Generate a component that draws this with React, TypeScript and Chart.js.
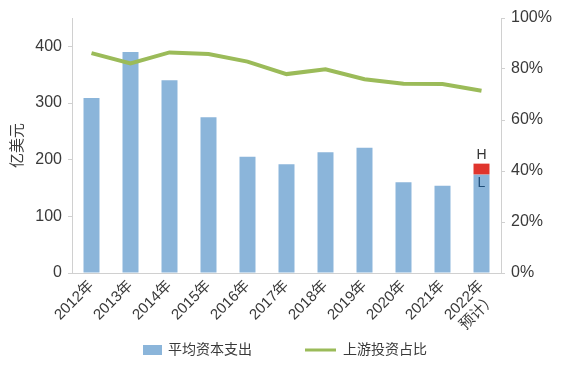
import React, { useEffect, useRef } from "react";
import { Chart, registerables } from "chart.js";

Chart.register(...registerables);

const categories: (string | string[])[] = [
  "2012年", "2013年", "2014年", "2015年", "2016年", "2017年",
  "2018年", "2019年", "2020年", "2021年", ["2022年", "预计）"],
];
const capex = [309, 390, 340, 275, 205, 192, 213, 221, 160, 154, 174];
const capexHigh = [null, null, null, null, null, null, null, null, null, null, 193];
const upstreamShare = [86.2, 82.2, 86.5, 85.9, 82.9, 78.0, 79.9, 76.0, 74.2, 74.1, 71.5];
const leftTicks = [0, 100, 200, 300, 400];
const rightTicks = [0, 20, 40, 60, 80, 100];
const seriesNames = ["平均资本支出", "上游投资占比"];
const yTitle = "亿美元";
const highLabel = "H";
const lowLabel = "L";

const FONT = "'Liberation Sans', 'Noto Sans CJK SC', Arial, sans-serif";
const TEXT = "#3a3a3a";
const BLUE = "#8bb5da";
const GREEN = "#9bbb59";
const RED = "#e0352d";
const AXIS = "#d0d0d0";

export default function App() {
  const ref = useRef<HTMLCanvasElement | null>(null);

  useEffect(() => {
    if (!ref.current) return;
    const rangeBars = capexHigh.map((h, i) => (h == null ? null : [capex[i], h]));

    const extras = {
      id: "extras",
      afterDraw(chart: any) {
        const ctx = chart.ctx;
        const area = chart.chartArea;
        const x = chart.scales.x;
        const y = chart.scales.y;
        ctx.save();
        ctx.translate(18, (area.top + area.bottom) / 2);
        ctx.rotate(-Math.PI / 2);
        ctx.fillStyle = TEXT;
        ctx.font = `15px ${FONT}`;
        ctx.textAlign = "center";
        ctx.textBaseline = "middle";
        ctx.fillText(yTitle, 0, 0);
        ctx.restore();

        ctx.save();
        ctx.font = `14px ${FONT}`;
        ctx.textAlign = "center";
        ctx.textBaseline = "middle";
        capexHigh.forEach((h, i) => {
          if (h == null) return;
          const px = x.getPixelForValue(i);
          ctx.fillStyle = "#333333";
          ctx.fillText(highLabel, px, y.getPixelForValue(h) - 8);
          ctx.fillStyle = "#1f4e79";
          ctx.fillText(lowLabel, px, y.getPixelForValue(capex[i]) + 9);
        });
        ctx.restore();

        ctx.save();
        const ly = 350;
        ctx.fillStyle = BLUE;
        ctx.fillRect(143, ly - 5, 19, 10);
        ctx.strokeStyle = GREEN;
        ctx.lineWidth = 3;
        ctx.beginPath();
        ctx.moveTo(305, ly);
        ctx.lineTo(336, ly);
        ctx.stroke();
        ctx.fillStyle = TEXT;
        ctx.font = `14px ${FONT}`;
        ctx.textBaseline = "middle";
        ctx.textAlign = "left";
        ctx.fillText(seriesNames[0], 168, ly);
        ctx.fillText(seriesNames[1], 343, ly);
        ctx.restore();
      },
    };

    const chart = new Chart(ref.current, {
      type: "bar",
      data: {
        labels: categories,
        datasets: [
          {
            type: "line",
            label: seriesNames[1],
            data: upstreamShare,
            yAxisID: "y1",
            borderColor: GREEN,
            backgroundColor: GREEN,
            borderWidth: 4,
            pointRadius: 0,
            tension: 0,
            order: 0,
          } as any,
          {
            type: "bar",
            label: "H",
            data: rangeBars as any,
            yAxisID: "y",
            backgroundColor: RED,
            grouped: false,
            categoryPercentage: 1,
            barPercentage: 0.41,
            order: 1,
          } as any,
          {
            type: "bar",
            label: seriesNames[0],
            data: capex,
            yAxisID: "y",
            backgroundColor: BLUE,
            grouped: false,
            categoryPercentage: 1,
            barPercentage: 0.41,
            order: 2,
          } as any,
        ],
      },
      options: {
        responsive: false,
        animation: false,
        layout: { padding: { top: 18, bottom: 42, left: 0, right: 0 } },
        plugins: { legend: { display: false }, tooltip: { enabled: false } },
        scales: {
          x: {
            grid: { display: true, drawOnChartArea: false, drawTicks: false },
            border: { color: AXIS },
            ticks: {
              color: TEXT,
              font: { family: FONT, size: 15 },
              maxRotation: 45,
              minRotation: 45,
              padding: 4,
              autoSkip: false,
            },
            afterFit(scale: any) {
              scale.height = 57;
            },
          },
          y: {
            position: "left",
            min: 0,
            max: 450,
            afterBuildTicks(scale: any) {
              scale.ticks = leftTicks.map((v) => ({ value: v }));
            },
            grid: { drawOnChartArea: false, drawTicks: true, tickLength: 4, color: AXIS },
            border: { color: AXIS },
            ticks: { color: TEXT, font: { family: FONT, size: 16 }, padding: 6 },
            afterFit(scale: any) {
              scale.width = 72;
            },
          },
          y1: {
            position: "right",
            min: 0,
            max: 100,
            afterBuildTicks(scale: any) {
              scale.ticks = rightTicks.map((v) => ({ value: v }));
            },
            grid: { drawOnChartArea: false, drawTicks: true, tickLength: 4, color: AXIS },
            border: { color: AXIS },
            ticks: {
              color: TEXT,
              font: { family: FONT, size: 16 },
              padding: 6,
              callback: (v: any) => `${v}%`,
            },
            afterFit(scale: any) {
              scale.width = 69;
            },
          },
        },
      } as any,
      plugins: [extras],
    });
    return () => chart.destroy();
  }, []);

  return (
    <div style={{ position: "absolute", left: 0, top: 0, width: 570, height: 372, background: "#fff" }}>
      <canvas ref={ref} width={570} height={372} />
    </div>
  );
}
